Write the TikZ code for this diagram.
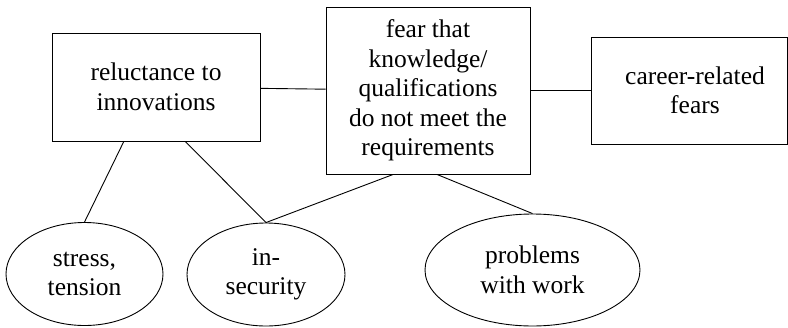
\documentclass[tikz,border=0pt]{standalone}
\usepackage{fontspec}
\setmainfont{Liberation Serif}
\usetikzlibrary{shapes.geometric,calc}
\begin{document}
\begin{tikzpicture}[x=1pt,y=-1pt,
  every node/.style={font=\fontsize{25.5}{29.5}\selectfont, align=center, inner sep=0pt},
  boxnode/.style={draw, rectangle, line width=0.9pt},
  ovalnode/.style={draw, ellipse, line width=0.9pt},
  link/.style={line width=0.9pt}]
\useasboundingbox (0,0) rectangle (788,327);
\node[boxnode, minimum width=208pt, minimum height=108pt] (b1) at (156,87) {reluctance to\\innovations};
\node[boxnode, minimum width=204pt, minimum height=167pt] (b2) at (428,90.5) {fear that\\knowledge/\\qualifications\\do not meet the\\requirements};
\node[boxnode, minimum width=196pt, minimum height=107pt] (b3) at (689,90.5) {\hspace*{12pt}career-related\\\hspace*{12pt}fears};
\node[ovalnode, minimum width=157pt, minimum height=103pt] (e1) at (84.5,274) {stress,\\tension};
\node[ovalnode, minimum width=158pt, minimum height=103pt] (e2) at (266,274.5) {in-\\security};
\node[ovalnode, minimum width=215pt, minimum height=112pt] (e3) at (532.5,270) {problems\\with work};
\draw[link] (b1) -- (b2);
\draw[link] (b2) -- (b3);
\draw[link] ($(b1.south west)!0.346!(b1.south east)$) -- (e1.north);
\draw[link] ($(b1.south west)!0.64!(b1.south east)$) -- (e2.north);
\draw[link] ($(b2.south west)!0.33!(b2.south east)$) -- (e2.north);
\draw[link] ($(b2.south west)!0.544!(b2.south east)$) -- (e3.north);
\end{tikzpicture}
\end{document}
